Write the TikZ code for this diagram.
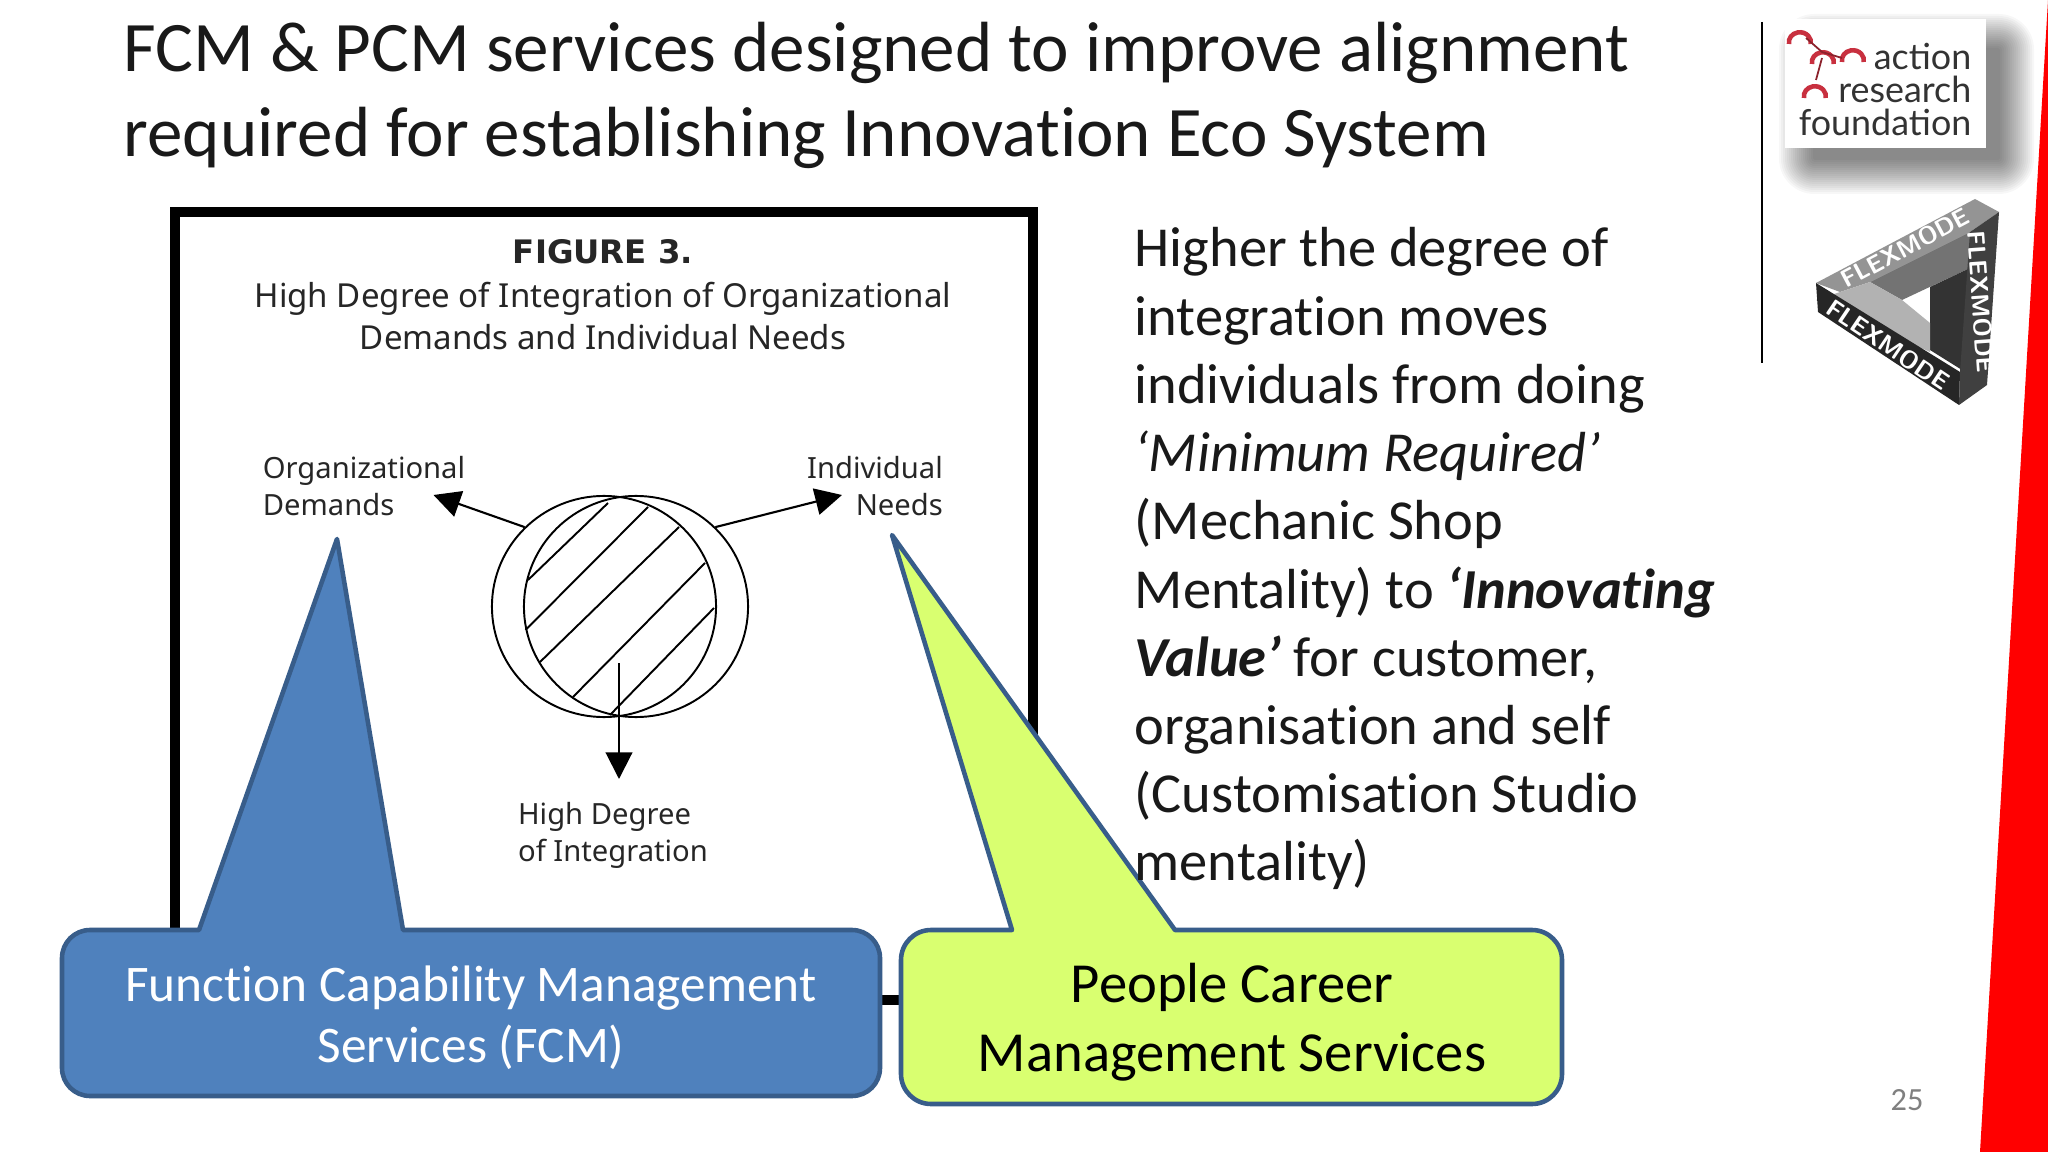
\documentclass[tikz,border=0pt]{standalone}
\usepackage{xcolor}
\usepackage{fontspec}
\setmainfont{Carlito}[RawFeature=-liga]
\newfontfamily\figfont{Noto Sans}
\newfontfamily\figbold{DejaVu Sans}
\newfontfamily\logofont{Lato}
\usetikzlibrary{arrows.meta, positioning, calc, shapes.geometric}
\definecolor{callblue}{HTML}{4F81BD}
\definecolor{callline}{HTML}{385D8A}
\definecolor{calllime}{HTML}{D9FF70}
\definecolor{logored}{HTML}{C8303F}

\begin{document}
\begin{tikzpicture}[
    x=0.01cm, y=-0.01cm,
    headline/.style={anchor=north west, inner sep=0, align=left, font=\fontsize{20.2}{24.2}\selectfont, text=black!90},
    bodytext/.style={anchor=north west, inner sep=0, align=left, font=\fontsize{16.06}{19.4}\selectfont, text=black!90},
    figtext/.style={inner sep=0, font=\figfont\fontsize{8.3}{10.5}\selectfont, text=black!85},
    ring/.style={ellipse, draw, line width=0.55pt, inner sep=0, minimum width=2.24cm, minimum height=2.21cm},
    hatch/.style={line width=0.55pt},
    arrow/.style={-{Triangle[length=7.6pt, width=7.6pt]}, line width=0.6pt},
    callout/.style={line width=1.3pt, draw=callline, line join=round},
    calltext/.style={inner sep=0, align=center},
    flexface/.style={inner sep=0, text=white, font=\sffamily\bfseries\fontsize{7}{8}\selectfont}
    ]
    \useasboundingbox (0,0) rectangle (2048,1152);
    \fill[white] (0,0) rectangle (2048,1152);

    % logo box with its soft shadow
    \foreach \g in {36,34,...,2}
      \fill[black, opacity=0.032, rounded corners=0.28*\g] ($(1815,50)+(-\g,-\g)$) rectangle ($(1998,158)+(\g,\g)$);
    \fill[red] (2048,0) -- (1980,1152) -- (2048,1152) -- cycle;

    % title and side text
    \node[headline] (title) at (123,21) {FCM \& PCM services designed to improve alignment\\required for establishing Innovation Eco System};
    \draw[line width=0.7pt] (1762,22) -- (1762,363);

    \node[fill=white, minimum width=2.01cm, minimum height=1.29cm, inner sep=0] (logobox) at (1885.5,83.5) {};
    \node[inner sep=0, anchor=north east, align=right, text=black!80, font=\logofont\fontsize{10.2}{9.3}\selectfont] (logotext) at (1972,43) {action\\research\\foundation};
    \foreach \x/\y in {1800/36, 1823/56, 1853/54, 1815/90}
      \draw[logored, line width=1.3pt] ($(\x,\y)+(-11,8)$) arc[start angle=190, end angle=-10, x radius=0.11cm, y radius=0.1cm];
    \draw[logored!70!black, line width=0.5pt] (1806,38) -- (1822,52) -- (1842,58) (1822,58) -- (1816,80);

    % flexmode triangle
    \fill[black!42] (1816,283) -- (1975,199) -- (1999,212) -- (1970,232) -- (1870,282) -- (1840,292) -- cycle;
    \fill[black!55] (1870,282) -- (1970,232) -- (1970,268) -- (1902,300) -- cycle;
    \fill[black!80] (1930,287) -- (1970,268) -- (1962,370) -- (1930,350) -- cycle;
    \fill[black!30] (1816,300) -- (1870,282) -- (1902,300) -- (1930,323) -- (1930,352) -- cycle;
    \fill[black!85] (1816,283) -- (1818,312) -- (1959,405) -- (1960,372) -- cycle;
    \fill[black!75] (1970,232) -- (1999,212) -- (1987,385) -- (1959,405) -- (1960,372) -- cycle;
    \node[flexface, rotate=28] (flextop) at (1905,248) {FLEXMODE};
    \node[flexface, rotate=-34] (flexlow) at (1888,345) {FLEXMODE};
    \node[flexface, rotate=-86] (flexside) at (1981,302) {FLEXMODE};

    % scanned figure
    \draw[line width=2.9pt] (175,212) rectangle (1033,1000);
    \node[inner sep=0, font=\figbold\bfseries\fontsize{9.2}{10}\selectfont, text=black!85] (figtitle) at (603,252) {FIGURE 3.};
    \node[figtext, align=center, font=\figfont\fontsize{9.4}{12}\selectfont] (figsub) at (603,316) {High Degree of Integration of Organizational\\Demands and Individual Needs};
    \node[figtext, align=left] (orgdemands) at (364,486) {Organizational\\Demands};
    \node[figtext, align=right] (indneeds) at (875,486) {Individual\\Needs};
    \node[figtext, align=left] (highdeg) at (613,835) {High Degree\\of Integration};

    \node[ring] (leftring) at (604,606.5) {};
    \node[ring] (rightring) at (636,606.5) {};
    \foreach \xa/\ya/\xb/\yb in {608/503/528/580, 648/507/525.5/630, 679/527/540/662, 705/563/573/697, 714/608/610/715}
      \draw[hatch] (\xa,\ya) -- (\xb,\yb);

    \coordinate (demandtip) at (433.5,495);
    \coordinate (needtip) at (842,495);
    \coordinate (degfrom) at (619,663);
    \coordinate (degtip) at (619,779);
    \draw[arrow] (leftring.135) -- (demandtip);
    \draw[arrow] (rightring.45) -- (needtip);
    \draw[arrow] (degfrom) -- (degtip);

    % callouts
    \draw[callout, fill=callblue] (199,930) -- (337,539) -- (403,930) [rounded corners=0.28cm] -- (880,930) -- (880,1096) -- (62,1096) -- (62,930) [sharp corners] -- cycle;
    \draw[callout, fill=calllime] (1012,930) -- (892,535) -- (1175,930) [rounded corners=0.3cm] -- (1562,930) -- (1562,1104) -- (901,1104) -- (901,930) [sharp corners] -- cycle;
    \node[calltext, text=white, font=\fontsize{14.6}{17.4}\selectfont] (fcmtext) at (471,1018) {Function Capability Management\\Services (FCM)};
    \node[calltext, text=black, font=\fontsize{16.1}{19.6}\selectfont] (pcmtext) at (1232,1022) {People Career\\Management Services};

    \node[bodytext] (bodytext) at (1134,227) {Higher the degree of\\integration moves\\individuals from doing\\\textit{‘Minimum Required’}\\(Mechanic Shop\\Mentality) to \textbf{\textit{‘Innovating}}\\\textbf{\textit{Value’}} for customer,\\organisation and self\\(Customisation Studio\\mentality)};

    \node[inner sep=0, text=black!50, font=\fontsize{9.2}{11}\selectfont] (pagenum) at (1907,1100) {25};
  \end{tikzpicture}
\end{document}
